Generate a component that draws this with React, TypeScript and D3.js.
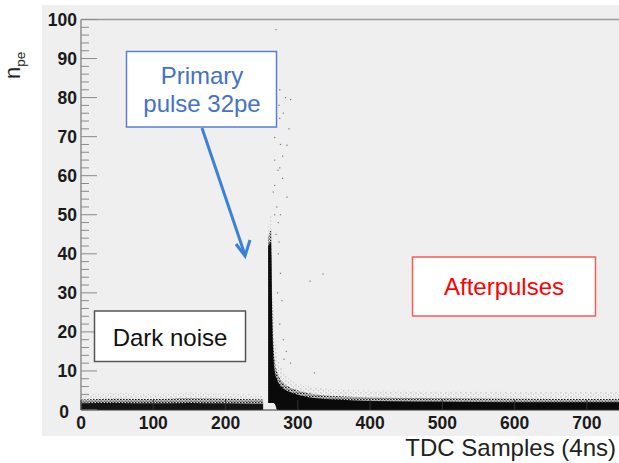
import React from 'react';
import * as d3 from 'd3';

// ---------- data ----------
const xTicks = [0, 100, 200, 300, 400, 500, 600, 700];
const yTicks = [0, 10, 20, 30, 40, 50, 60, 70, 80, 90, 100];
const yMinorTicks = d3.range(0, 101, 2);

// dark-noise band (before the primary pulse)
const darkX = [0, 50, 100, 150, 200, 252];
const darkCore = [1.7, 1.8, 1.7, 1.8, 1.7, 1.6];
const darkMid = [2.7, 2.9, 2.8, 3.0, 2.9, 2.7];
const darkHaze = [4.0, 4.4, 4.2, 4.5, 4.3, 3.9];
const darkLow = [0, 0, 0, 0, 0, 0];

// primary pulse + afterpulse tail
const pulseX = [259, 263, 264.5, 266, 268, 272, 280, 289, 300, 326, 360, 400, 500, 600, 750];
const pulseCore = [42, 43, 25, 15, 10, 7.5, 5.5, 4.6, 3.9, 3.0, 2.6, 2.3, 2.1, 2.0, 2.0];
const pulseMid = [44, 46, 30, 18, 13, 9.5, 7, 5.8, 5.0, 4.0, 3.5, 3.2, 3.0, 2.9, 2.8];
const pulseHaze = [47, 50, 40, 28, 20, 14, 10, 7.8, 6.8, 5.8, 5.2, 5.0, 4.8, 4.7, 4.6];
const pulseLow = [1.8, 1.8, 1.8, 1.8, 1.6, 0, 0, 0, 0, 0, 0, 0, 0, 0, 0];

// sparse isolated hits
const sparseX = [269.7, 275, 290, 274, 275, 287.7, 268, 285, 279, 268, 272.5, 279, 285, 268, 266,
  280, 283, 276, 275, 271, 273, 270, 276, 268, 274, 273, 276, 272, 278, 275, 280, 284, 290,
  335, 317, 281, 323];
const sparseY = [97.4, 82, 79.5, 78, 74.7, 72, 69.8, 67.8, 65, 64, 61.4, 59.3, 54.5, 57.5, 55.8,
  76, 80, 68, 62, 52, 48, 45, 50, 50, 43, 40, 35, 30, 28, 22, 18, 15, 12,
  34.8, 33, 13, 9.5];

// ---------- layout ----------
const W = 619, H = 463;
const x = d3.scaleLinear().domain([0, 750]).range([81, 623]);
const y = d3.scaleLinear().domain([0, 100]).range([410, 19.5]);

const band = (xs: number[], top: number[], low: number[]) =>
  d3.area<number>()
    .x((_, i) => x(xs[i]))
    .y0((_, i) => y(low[i]))
    .y1((_, i) => y(top[i]))
    .curve(d3.curveMonotoneX)(xs) as string;

const FONT = '"Liberation Sans", Arial, Helvetica, sans-serif';

export default function App() {
  return (
    <svg width={W} height={H} style={{ position: 'absolute', left: 0, top: 0 }} fontFamily={FONT}>
      <defs>
        <clipPath id="plot">
          <rect x={81} y={19.5} width={W - 81} height={390.5} />
        </clipPath>
        <pattern id="haze" width={5} height={4} patternUnits="userSpaceOnUse">
          <rect x={0.5} y={0.5} width={0.9} height={0.9} fill="#444" />
          <rect x={3.2} y={2.4} width={0.8} height={0.8} fill="#666" />
        </pattern>
        <pattern id="mid" width={3} height={3} patternUnits="userSpaceOnUse">
          <rect x={0} y={0} width={1.6} height={1.2} fill="#111" />
          <rect x={1.6} y={1.5} width={1.2} height={1.3} fill="#222" />
          <rect x={0.4} y={2.0} width={0.8} height={0.8} fill="#555" />
        </pattern>
      </defs>

      <rect x={0} y={0} width={W} height={H} fill="#ffffff" />
      <rect x={42} y={5} width={W - 42} height={431} fill="#efefef" />

      <g clipPath="url(#plot)">
        <path d={band(darkX, darkHaze, darkLow)} fill="url(#haze)" opacity={0.6} />
        <path d={band(darkX, darkMid, darkLow)} fill="url(#mid)" />
        <path d={band(darkX, darkCore, darkLow)} fill="#141414" />
        <path d={band(pulseX, pulseHaze, pulseLow)} fill="url(#haze)" opacity={0.6} />
        <path d={band(pulseX, pulseMid, pulseLow)} fill="url(#mid)" />
        <path d={band(pulseX, pulseCore, pulseLow)} fill="#0a0a0a" />
        {sparseX.map((v, i) => (
          <rect key={i} x={x(v) - 0.6} y={y(sparseY[i]) - 0.6} width={1.2} height={1.2} fill="#777" />
        ))}
      </g>

      {/* frame */}
      <line x1={81} x2={W} y1={19.5} y2={19.5} stroke="#9a9a9a" strokeWidth={1.5} />
      <line x1={81} x2={81} y1={19.5} y2={410} stroke="#777" strokeWidth={1.2} />
      <line x1={81} x2={W} y1={410} y2={410} stroke="#333" strokeWidth={1.2} />

      {/* y ticks */}
      {yMinorTicks.map(t => (
        <line key={'m' + t} x1={81} x2={t % 10 === 0 ? 97 : 89} y1={y(t)} y2={y(t)} stroke="#8a8a8a" strokeWidth={1} />
      ))}
      {yTicks.map(t => (
        <text key={'y' + t} x={t === 0 ? 69 : 77} y={y(t) + (t === 0 ? 2 : 0)} dy="0.36em" textAnchor="end"
          fontSize={17.5} fontWeight="bold" fill="#1a1a1a">{t}</text>
      ))}
      {/* x ticks */}
      {xTicks.map(t => (
        <line key={'xt' + t} x1={x(t)} x2={x(t)} y1={410} y2={400} stroke="#333" strokeWidth={1} />
      ))}
      {xTicks.map(t => (
        <text key={'x' + t} x={x(t)} y={428.5} textAnchor="middle" fontSize={17.5} fontWeight="bold" fill="#1a1a1a">{t}</text>
      ))}

      {/* axis titles */}
      <text x={616} y={456} textAnchor="end" fontSize={24} fill="#222">TDC Samples (4ns)</text>
      <text transform="translate(20,79) rotate(-90)" textAnchor="start" fontSize={22} fill="#222">
        n<tspan fontSize={13.5} dy={5}>pe</tspan>
      </text>

      {/* annotations */}
      <rect x={126.5} y={51.5} width={150} height={75.5} fill="#fff" stroke="#5b7fd0" strokeWidth={1.5} />
      <text x={202} y={83.5} textAnchor="middle" fontSize={24} fill="#4472c4">Primary</text>
      <text x={202} y={112} textAnchor="middle" fontSize={24} fill="#4472c4">pulse 32pe</text>
      <line x1={202} y1={128} x2={245} y2={255} stroke="#3b82d6" strokeWidth={3} />
      <polyline points="236,244 245,256 250,240" fill="none" stroke="#3b82d6" strokeWidth={3} strokeLinejoin="miter" />

      <rect x={94.5} y={311} width={151} height={50.5} fill="#fff" stroke="#555" strokeWidth={1.5} />
      <text x={170} y={345.5} textAnchor="middle" fontSize={24} fill="#111">Dark noise</text>

      <rect x={412.5} y={257} width={183} height={59} fill="#fff" stroke="#ff5a5a" strokeWidth={1.5} />
      <text x={504} y={295} textAnchor="middle" fontSize={24} fill="#ff0000">Afterpulses</text>
    </svg>
  );
}
